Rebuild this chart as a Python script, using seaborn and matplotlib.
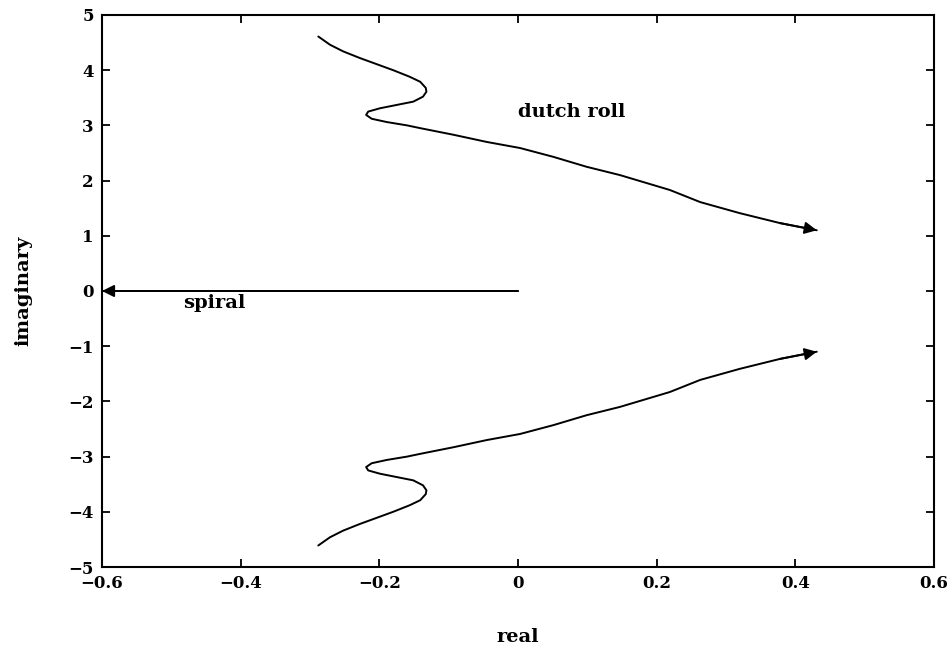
import numpy as np
import pandas as pd
import matplotlib
matplotlib.use("Agg")
import matplotlib.pyplot as plt
import seaborn as sns

# Dutch-roll root locus (upper branch); the lower branch is its complex conjugate
dr_real = [-0.288, -0.271, -0.252, -0.228, -0.204, -0.180, -0.156, -0.141,
           -0.133, -0.132, -0.137, -0.151, -0.175, -0.199, -0.216, -0.219,
           -0.211, -0.189, -0.160, -0.141, -0.093, -0.045, 0.003, 0.051,
           0.099, 0.147, 0.195, 0.219, 0.263, 0.320, 0.378, 0.431]
dr_imag = [4.61, 4.46, 4.34, 4.22, 4.11, 4.00, 3.88, 3.79,
           3.68, 3.61, 3.52, 3.43, 3.37, 3.31, 3.25, 3.19,
           3.12, 3.06, 3.00, 2.95, 2.83, 2.70, 2.59, 2.43,
           2.25, 2.10, 1.92, 1.83, 1.61, 1.41, 1.23, 1.10]

# Spiral mode root path along the real axis
sp_real = [0.0, -0.6]
sp_imag = [0.0, 0.0]

x_ticks = [-0.6, -0.4, -0.2, 0, 0.2, 0.4, 0.6]
x_tick_labels = ["\u22120.6", "\u22120.4", "\u22120.2", "0", "0.2", "0.4", "0.6"]
y_ticks = [-5, -4, -3, -2, -1, 0, 1, 2, 3, 4, 5]
y_tick_labels = ["\u22125", "\u22124", "\u22123", "\u22122", "\u22121", "0", "1", "2", "3", "4", "5"]

sns.set_style("ticks", {"axes.edgecolor": "black", "text.color": "black",
                        "xtick.color": "black", "ytick.color": "black",
                        "axes.labelcolor": "black"})
plt.rcParams["font.family"] = ["DejaVu Serif"]
plt.rcParams["font.weight"] = "bold"

fig = plt.figure(figsize=(9.53, 6.51), dpi=100)
ax = fig.add_axes([0.107, 0.129, 0.873, 0.848])

upper = pd.DataFrame({"real": dr_real, "imag": dr_imag})
lower = pd.DataFrame({"real": dr_real, "imag": [-v for v in dr_imag]})
spiral = pd.DataFrame({"real": sp_real, "imag": sp_imag})

for df in (upper, lower, spiral):
    sns.lineplot(data=df, x="real", y="imag", sort=False, estimator=None,
                 color="black", linewidth=1.4, ax=ax,
                 solid_joinstyle="round", solid_capstyle="round")
    ax.annotate("", xy=(df["real"].iloc[-1], df["imag"].iloc[-1]),
                xytext=(df["real"].iloc[-2], df["imag"].iloc[-2]),
                arrowprops=dict(arrowstyle="-|>", color="black",
                                mutation_scale=18, linewidth=1.4,
                                shrinkA=0, shrinkB=0))

ax.text(0.0, 3.24, "dutch roll", fontsize=14, fontweight="bold",
        va="center", ha="left", color="black")
ax.text(-0.483, -0.22, "spiral", fontsize=14, fontweight="bold",
        va="center", ha="left", color="black")

ax.set_xlim(-0.6, 0.6)
ax.set_ylim(-5, 5)
ax.set_xticks(x_ticks)
ax.set_xticklabels(x_tick_labels)
ax.set_yticks(y_ticks)
ax.set_yticklabels(y_tick_labels)
ax.tick_params(direction="in", length=6, width=1.3, top=True, right=True,
               labelsize=12, pad=6, colors="black")
for lbl in ax.get_xticklabels() + ax.get_yticklabels():
    lbl.set_fontweight("bold")
for sp in ax.spines.values():
    sp.set_linewidth(1.5)
    sp.set_color("black")
    sp.set_visible(True)

ax.set_xlabel("real", fontsize=14, fontweight="bold", labelpad=26)
ax.set_ylabel("imaginary", fontsize=14, fontweight="bold", labelpad=26)

fig.savefig("out.png", dpi=100, facecolor="white")
